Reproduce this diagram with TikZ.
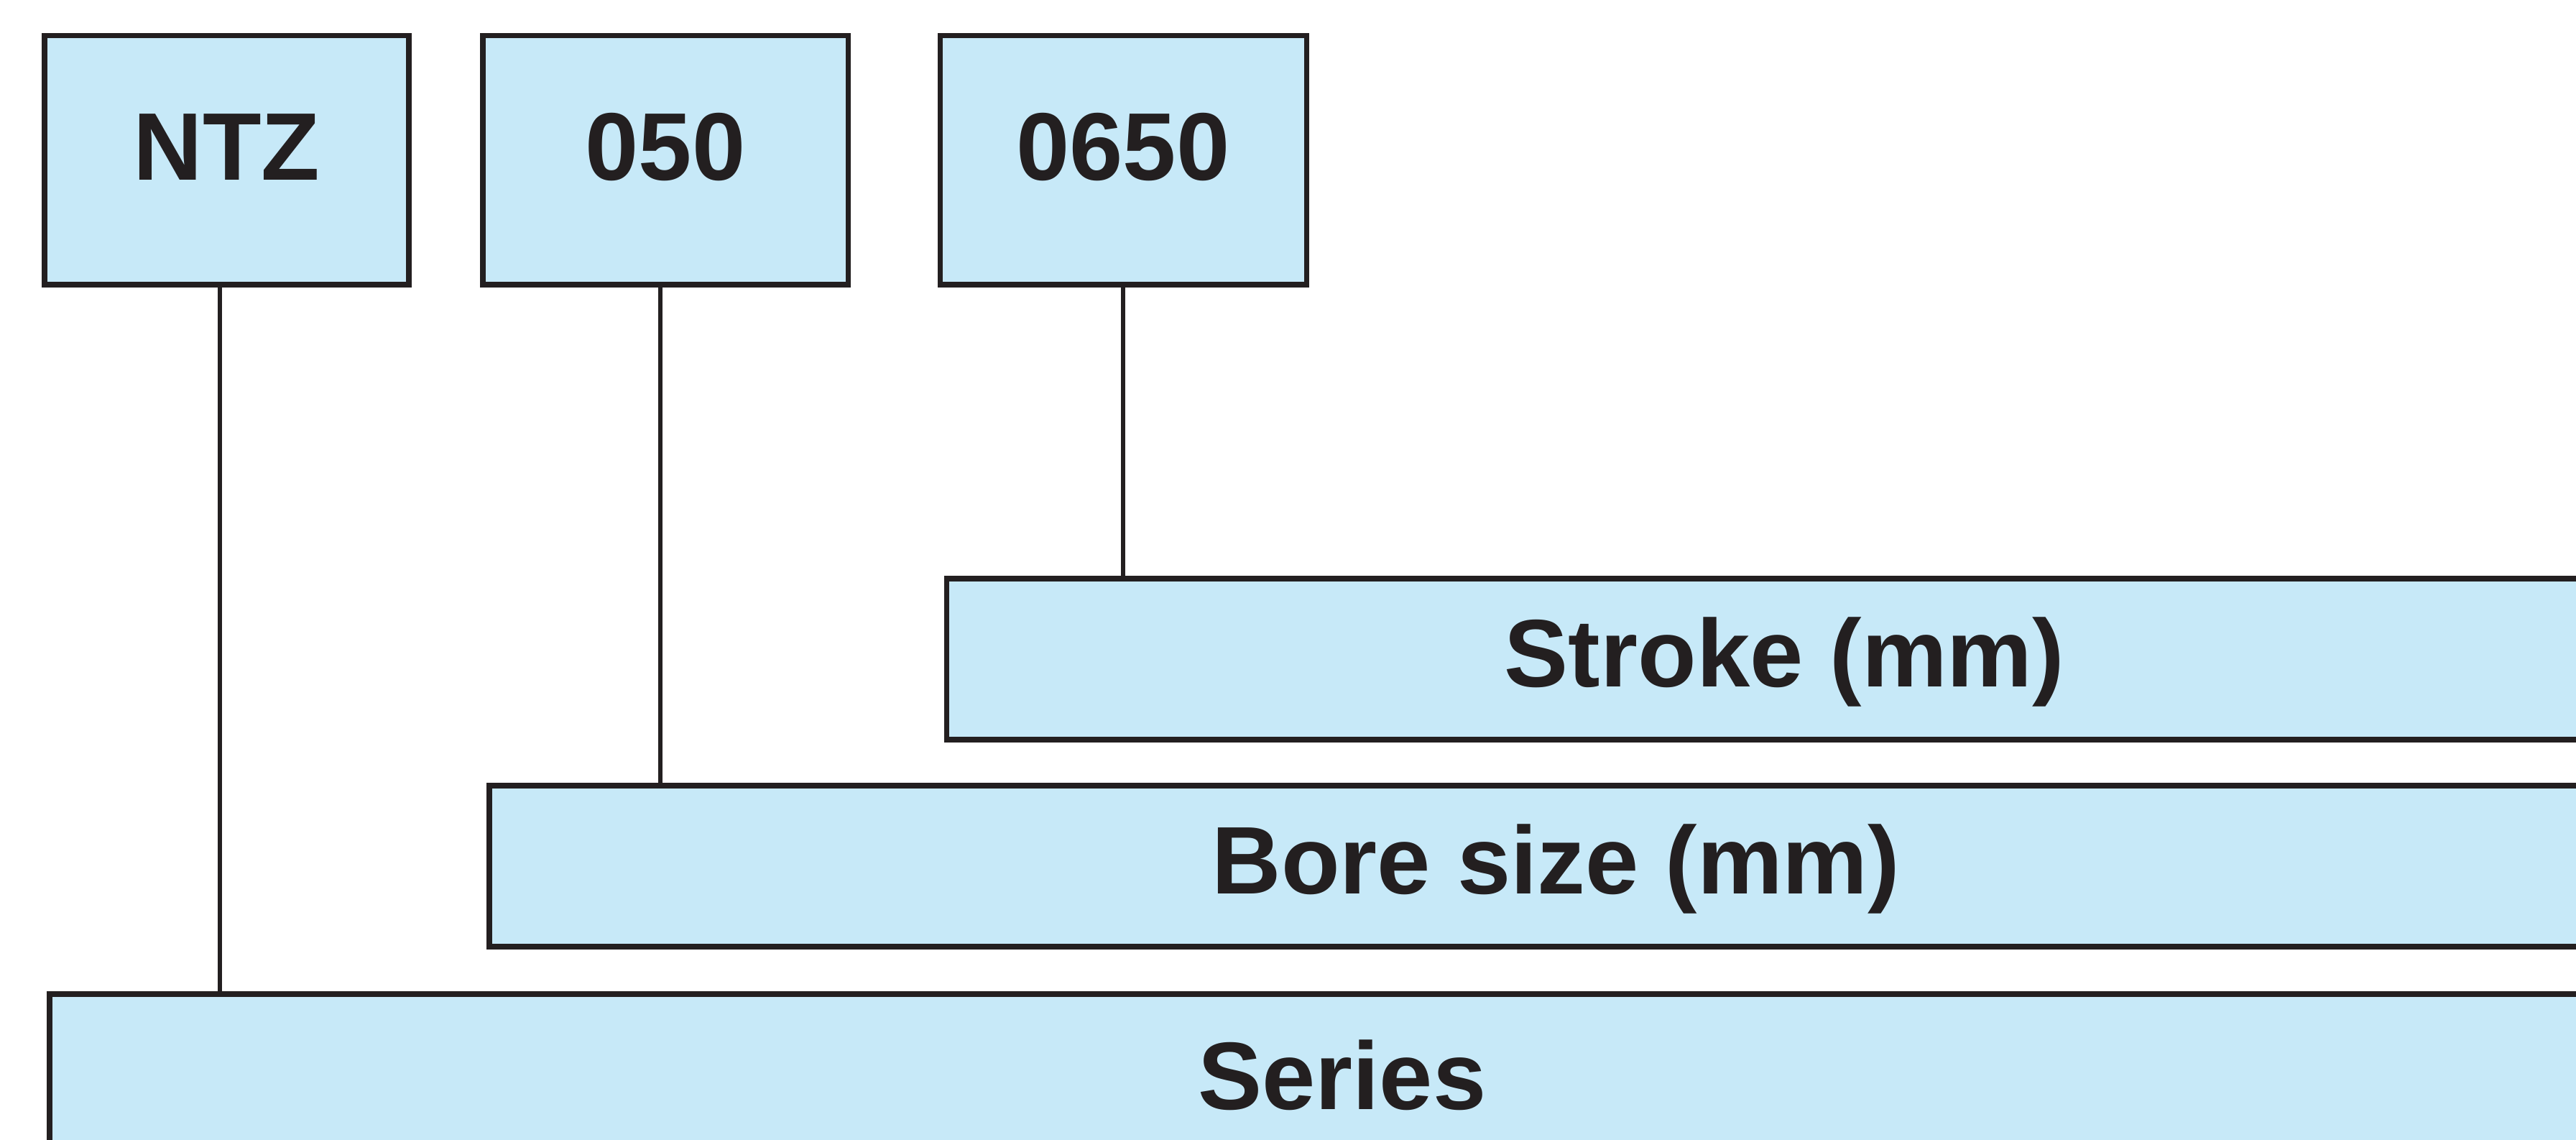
\documentclass[tikz,border=0pt]{standalone}
\usepackage{fontspec}
\setmainfont{Liberation Sans}
\definecolor{ink}{HTML}{231F20}
\definecolor{boxfill}{HTML}{C7E9F8}
\tikzset{
  tbox/.style={draw=ink, fill=boxfill, line width=2pt, inner sep=0pt, rectangle,
    text=ink, font=\fontsize{38}{40}\selectfont\bfseries, anchor=base},
  conn/.style={draw=ink, line width=1.7pt}
}
\begin{document}
\begin{tikzpicture}
\useasboundingbox (0,0) rectangle (35.85,-15.86);
\clip (0,0) rectangle (35.85,-15.86);
% top code boxes
\node[tbox, minimum width=5.07cm, text height=2.01cm, text depth=1.45cm] (ntz) at (3.155,-2.51) {NTZ};
\node[tbox, minimum width=5.08cm, text height=2.01cm, text depth=1.45cm] (bore) at (9.26,-2.51) {050};
\node[tbox, minimum width=5.10cm, text height=2.01cm, text depth=1.45cm] (stroke) at (15.63,-2.51) {0650};
% description boxes
\node[tbox, minimum width=23.33cm, text height=1.51cm, text depth=0.73cm] (strokeD) at (24.835,-9.56) {Stroke (mm)};
\node[tbox, minimum width=29.69cm, text height=1.51cm, text depth=0.73cm] (boreD) at (21.655,-12.44) {Bore size (mm)};
\node[tbox, minimum width=35.98cm, text height=1.60cm, text depth=2.0cm] (series) at (18.68,-15.43) {Series};
% connectors
\coordinate (c1) at ([xshift=-0.095cm]ntz.south);
\coordinate (c2) at ([xshift=-0.07cm]bore.south);
\draw[conn] (c1) -- (c1 |- series.north);
\draw[conn] (c2) -- (c2 |- boreD.north);
\draw[conn] (stroke.south) -- (stroke.south |- strokeD.north);
\end{tikzpicture}
\end{document}
